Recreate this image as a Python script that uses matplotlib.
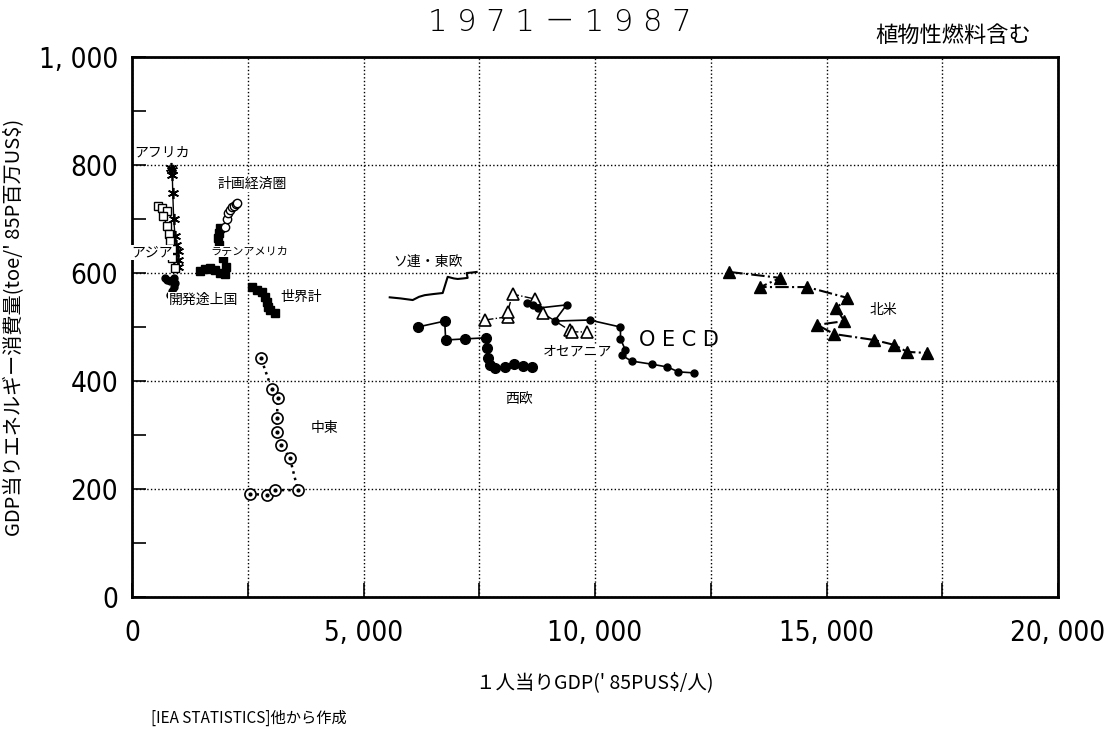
import matplotlib.pyplot as plt
from matplotlib.ticker import FixedLocator, MultipleLocator

plt.rcParams['font.family'] = ['Noto Sans CJK JP', 'DejaVu Sans']

NUM_FONT = ['DejaVu Sans']

# per-capita GDP ('85 US$) and energy use per GDP (toe / '85 million US$), 1971-1987
africa_x = [850, 860, 870, 880, 900, 930, 960, 985, 1000, 990]
africa_y = [795, 790, 782, 748, 700, 668, 652, 640, 625, 612]

asia_x = [560, 650, 750, 670, 760, 790, 820, 860, 870, 930]
asia_y = [725, 720, 715, 705, 688, 672, 660, 645, 628, 610]

developing_x = [710, 760, 810, 860, 900, 930, 900, 860, 830]
developing_y = [590, 588, 586, 588, 590, 582, 574, 566, 560]

latam_x = [1470, 1570, 1680, 1790, 1900, 2000, 2030, 1960, 1900, 1870, 1860, 1880, 1900]
latam_y = [603, 608, 610, 606, 600, 598, 612, 628, 640, 652, 664, 675, 683]

planned_x = [2010, 2050, 2080, 2115, 2160, 2200, 2240, 2265]
planned_y = [685, 700, 712, 717, 722, 724, 727, 730]

world_x = [2590, 2700, 2800, 2870, 2910, 2935, 2980, 3090]
world_y = [574, 568, 565, 556, 546, 537, 531, 526]

mideast_x = [2546, 2912, 3085, 3582, 3409, 3215, 3128, 3128, 3150, 3020, 2783]
mideast_y = [191, 189, 198, 198, 258, 281, 306, 331, 368, 385, 443]

ussr_x = [5566, 5800, 6063, 6200, 6321, 6500, 6710, 6818, 6950, 7034, 7150, 7249, 7227, 7350, 7443]
ussr_y = [555, 553, 550, 556, 559, 561, 563, 593, 590, 589, 590, 591, 600, 601, 602]

weurope_x = [6170, 6753, 6775, 7184, 7637, 7659, 7681, 7724, 7832, 8048, 8242, 8436, 8630]
weurope_y = [500, 511, 476, 478, 480, 461, 443, 430, 424, 426, 431, 428, 426]

oceania_x = [7616, 8112, 8112, 8220, 8695, 8867, 9450, 9493, 9817]
oceania_y = [513, 519, 528, 561, 552, 526, 494, 491, 491]

oecd_x = [8540, 8650, 8760, 9385, 9126, 9881, 10550, 10550, 10658, 10572, 10788, 11240, 11564, 11802, 12147]
oecd_y = [545, 540, 535, 541, 511, 513, 500, 478, 457, 448, 437, 431, 426, 417, 415]

namerica_x = [12902, 14002, 13570, 14584, 15448, 15210, 15383, 14800, 15167, 16030, 16462, 16742, 17174]
namerica_y = [602, 591, 574, 574, 554, 535, 511, 504, 487, 476, 467, 454, 452]

x_ticks = [0, 5000, 10000, 15000, 20000]
x_tick_labels = ['0', '5, 000', '10, 000', '15, 000', '20, 000']
y_ticks = [0, 200, 400, 600, 800, 1000]
y_tick_labels = ['0', '200', '400', '600', '800', '1, 000']

# label text, x, y (data coords, left edge / vertical centre), size
labels = [
    ('アフリカ', 60, 824, 10),
    ('計画経済圏', 1850, 765, 10),
    ('アジア', -20, 638, 10),
    ('ラテンアメリカ', 1700, 640, 8),
    ('開発途上国', 790, 550, 10),
    ('世界計', 3200, 555, 10),
    ('中東', 3850, 313, 10),
    ('ソ連・東欧', 5650, 620, 10),
    ('西欧', 8050, 366, 10),
    ('オセアニア', 8870, 454, 10),
    ('北米', 15930, 531, 10),
]

fig = plt.figure(figsize=(11.15, 7.34), dpi=100)
ax = fig.add_axes([0.1184, 0.1866, 0.8305, 0.7357])

common = dict(color='black', zorder=3)
ax.plot(africa_x, africa_y, '-', lw=1, marker=(6, 2, 0), ms=8, mew=1.2, **common)
ax.plot(asia_x, asia_y, '-', lw=1, marker='s', ms=6, mfc='white', mew=1, **common)
ax.plot(developing_x, developing_y, '-', lw=1, marker='o', ms=5, **common)
ax.plot(latam_x, latam_y, '-', lw=1, marker='s', ms=6, **common)
ax.plot(planned_x, planned_y, ':', lw=1, marker='o', ms=6, mfc='white', mew=1, **common)
ax.plot(world_x, world_y, '-', lw=1, marker='s', ms=6, **common)
ax.plot(mideast_x, mideast_y, ':', lw=1.8, marker='o', ms=8, mfc='white', mew=1.2, **common)
ax.plot(mideast_x, mideast_y, ' ', marker='o', ms=2, color='black', zorder=4)
ax.plot(ussr_x, ussr_y, '-', lw=1.5, **common)
ax.plot(weurope_x, weurope_y, '-', lw=1.2, marker='o', ms=7, **common)
ax.plot(oceania_x, oceania_y, '-.', lw=1, marker='^', ms=8, mfc='white', mew=1.2, **common)
ax.plot(oecd_x, oecd_y, '-', lw=1.2, marker='o', ms=5, **common)
ax.plot(namerica_x, namerica_y, '-.', lw=1.5, marker='^', ms=8, **common)

for text, x, y, size in labels:
    ax.text(x, y, text, fontsize=size, ha='left', va='center', zorder=5,
            bbox=dict(facecolor='white', edgecolor='none', pad=0.5))
ax.text(10950, 476, 'O E C D', fontsize=15, ha='left', va='center', zorder=5,
        family=['DejaVu Sans'])

ax.set_xlim(0, 20000)
ax.set_ylim(0, 1000)
ax.xaxis.set_major_locator(FixedLocator(x_ticks))
ax.xaxis.set_minor_locator(MultipleLocator(2500))
ax.yaxis.set_major_locator(FixedLocator(y_ticks))
ax.yaxis.set_minor_locator(MultipleLocator(100))
ax.set_xticklabels(x_tick_labels, family=NUM_FONT, fontsize=20, fontstretch='condensed')
ax.set_yticklabels(y_tick_labels, family=NUM_FONT, fontsize=20, fontstretch='condensed')
ax.tick_params(which='both', direction='in', length=10, width=1.2, top=False, right=False)
ax.tick_params(axis='x', which='major', pad=16)
ax.tick_params(axis='y', which='major', pad=10)

ax.grid(True, which='minor', axis='x', ls=':', lw=1, color='black')
ax.grid(True, which='major', axis='x', ls=':', lw=1, color='black')
ax.grid(True, which='major', axis='y', ls=':', lw=1, color='black')
for spine in ax.spines.values():
    spine.set_linewidth(2)

ax.set_xlabel("１人当りGDP(' 85PUS$/人)", fontsize=14, labelpad=18)
ax.set_ylabel("GDP当りエネルギー消費量(toe/' 85P百万US$)", fontsize=14.5, labelpad=10)

fig.text(0.502, 0.97, '1 9 7 1 － 1 9 8 7', fontsize=22, ha='center', va='center',
         family=['DejaVu Sans', 'Noto Sans CJK JP'], fontweight='light')
fig.text(0.925, 0.952, '植物性燃料含む', fontsize=16, ha='right', va='center')
fig.text(0.135, 0.022, '[IEA STATISTICS]他から作成', fontsize=11, ha='left', va='center')

fig.savefig('out.png', dpi=100)
